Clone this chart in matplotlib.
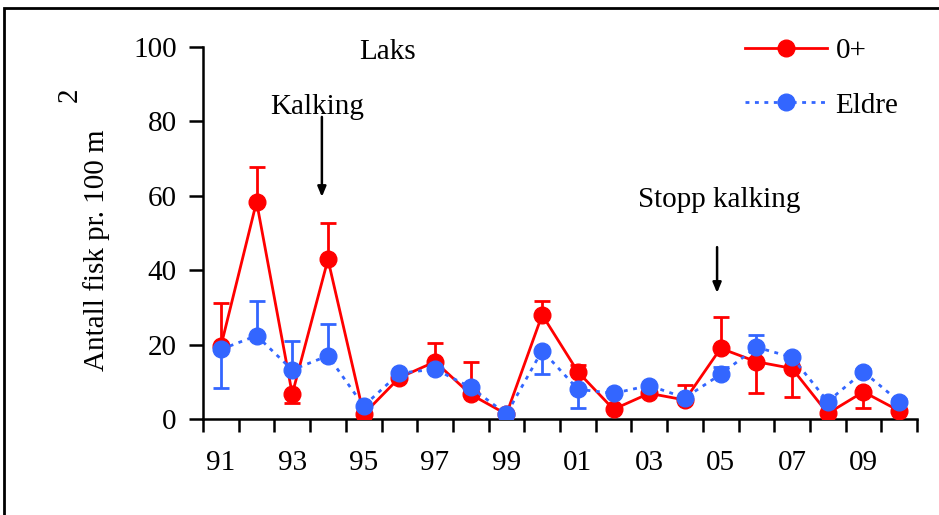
import matplotlib
matplotlib.use("Agg")
import matplotlib.pyplot as plt
import numpy as np
from matplotlib.lines import Line2D
from matplotlib.patches import Rectangle

plt.rcParams["font.family"] = ["Liberation Serif", "DejaVu Serif"]

years = list(range(1991, 2011))
tick_labels = ["91", "93", "95", "97", "99", "01", "03", "05", "07", "09"]

# 0+ (red)
young = [19.5, 58.4, 6.7, 42.9, 1.3, 11.1, 15.4, 6.6, 1.3, 28.0,
         12.7, 2.6, 6.9, 5.1, 19.0, 15.4, 13.6, 1.5, 7.3, 2.2]
young_up = [11.6, 9.4, 0, 9.9, 0, 0, 5.1, 8.6, 0, 3.8,
            1.9, 0, 0, 4.0, 8.5, 0, 0, 0, 0, 0.6]
young_down = [0, 0, 2.3, 0, 0, 0, 0, 0, 0, 0,
              0, 0, 0, 0, 0, 8.3, 7.6, 0, 4.4, 0]

# Eldre (blue)
older = [18.7, 22.4, 13.2, 17.0, 3.5, 12.3, 13.4, 8.5, 1.3, 18.4,
         8.0, 6.9, 9.0, 5.7, 12.0, 19.3, 16.6, 4.7, 12.7, 4.7]
older_up = [0, 9.4, 7.8, 8.5, 0, 0, 0, 0, 0, 0,
            0, 0, 0, 0, 2.1, 3.3, 0.9, 1.1, 0.8, 0.6]
older_down = [10.5, 0, 0, 0, 0, 0, 0, 0, 0, 6.4,
              5.1, 0, 0, 0, 0, 0, 0, 0, 0, 0]

RED = "#ff0000"
BLUE = "#3366ff"
FS = 21
MS = 12


def draw_errors(axis, x, y, up, down, color):
    y = np.asarray(y)
    up = np.asarray(up)
    down = np.asarray(down)
    mask = (up > 0) | (down > 0)
    axis.vlines(x[mask], (y - down)[mask], (y + up)[mask], color=color, lw=2, zorder=2)
    for ends, sel in ((y + up, up > 0), (y - down, down > 0)):
        axis.plot(x[sel], ends[sel], ls="none", marker="_", ms=11, mew=2,
                  color=color, zorder=2)


figure = plt.figure(figsize=(9.39, 5.15), dpi=100)
axis = figure.add_axes([203 / 939, 1 - 419 / 515, 714 / 939, 372 / 515])

x = np.arange(len(years))
draw_errors(axis, x, young, young_up, young_down, RED)
axis.plot(x, young, color=RED, lw=2, marker="o", ms=MS, zorder=3, label="0+")
draw_errors(axis, x, older, older_up, older_down, BLUE)
axis.plot(x, older, color=BLUE, lw=2, ls=(0, (1.4, 2.0)), marker="o", ms=MS,
          zorder=4, label="Eldre")

axis.set_xlim(-0.5, len(years) - 0.5)
axis.set_ylim(0, 100)
axis.set_yticks(range(0, 101, 20))
axis.set_xticks(np.arange(-0.5, len(years), 1.0))
axis.set_xticklabels([])
axis.set_xticks(x[::2], labels=tick_labels, minor=True)
axis.tick_params(axis="x", which="major", direction="out", length=9, width=1.8)
axis.tick_params(axis="x", which="minor", length=0, pad=22, labelsize=FS)
axis.tick_params(axis="y", direction="out", length=10, width=1.8, pad=9, labelsize=FS)
for side in ("top", "right"):
    axis.spines[side].set_visible(False)
for side in ("left", "bottom"):
    axis.spines[side].set_linewidth(1.8)

axis.text(4.67, 98.7, "Laks", fontsize=FS, ha="center", va="center")
axis.text(2.69, 84.0, "Kalking", fontsize=FS, ha="center", va="center")
axis.text(13.96, 58.9, "Stopp kalking", fontsize=FS, ha="center", va="center")
arrow = dict(arrowstyle="-|>,head_length=0.6,head_width=0.25", color="black",
             lw=1.8, shrinkA=0, shrinkB=0)
axis.annotate("", xy=(2.83, 59.7), xytext=(2.83, 81.2), arrowprops=arrow)
axis.annotate("", xy=(13.9, 33.9), xytext=(13.9, 46.2), arrowprops=arrow)

figure.text(97 / 939, 1 - 250 / 515, "Antall fisk pr. 100 m", rotation=90,
            fontsize=FS, ha="center", va="center")
figure.text(70 / 939, 1 - 95 / 515, "2", rotation=90, fontsize=FS,
            ha="center", va="center")

handles = [
    Line2D([], [], color=RED, lw=2, marker="o", ms=MS),
    Line2D([], [], color=BLUE, lw=2, ls=(0, (1.4, 2.0)), marker="o", ms=MS),
]
figure.legend(handles, ["0+", "Eldre"], loc="upper left",
              bbox_to_anchor=(745 / 939, 1 - 38 / 515), frameon=False,
              fontsize=FS, handlelength=2.8, handletextpad=0.3,
              labelspacing=0.95, borderpad=0, borderaxespad=0)

figure.add_artist(Rectangle((4 / 939, -0.1), 1.2, 1.1 - 8 / 515, fill=False,
                            lw=2, edgecolor="black", transform=figure.transFigure,
                            clip_on=False))

figure.savefig("out.png", dpi=100)
plt.close(figure)
